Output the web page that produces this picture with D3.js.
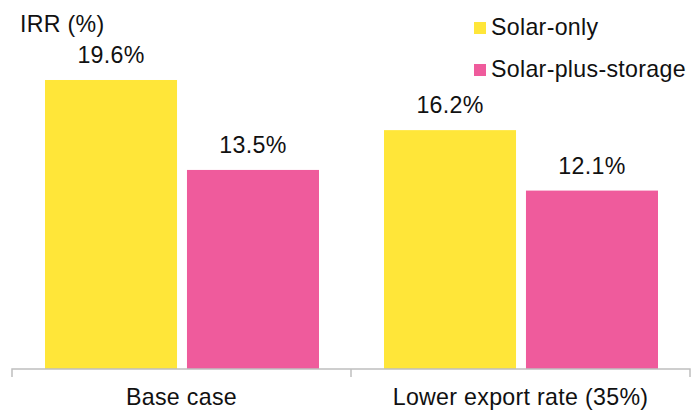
<!DOCTYPE html>
<html>
<head>
<meta charset="utf-8">
<script src="https://cdn.jsdelivr.net/npm/d3@7"></script>
<style>
  html, body { margin: 0; padding: 0; background: #fff; }
  svg { display: block; font-family: "Liberation Sans", Arial, sans-serif; }
  svg text { letter-spacing: 0.3px; }
</style>
</head>
<body>
<svg id="chart" width="700" height="412"></svg>
<script>
const categories = ["Base case", "Lower export rate (35%)"];
const seriesNames = ["Solar-only", "Solar-plus-storage"];
const solarOnly = [19.6, 16.2];
const solarPlusStorage = [13.5, 12.1];
const colors = ["#FFE639", "#EF5B9C"];
const yTitle = "IRR (%)";

const svg = d3.select("#chart");
const left = 12, right = 690, baseline = 369;
const fontSize = 23.2;
const textColor = "#111";

const x0 = d3.scaleBand().domain(categories).range([left, right]).padding(0);
const x1 = d3.scaleBand().domain(seriesNames).range([33, 307]).paddingInner(0.07).paddingOuter(0);
const y = d3.scaleLinear().domain([0, 24]).range([baseline, baseline - 24 * 14.745]);

const data = categories.map((c, i) => ({
  cat: c,
  vals: [
    { s: seriesNames[0], v: solarOnly[i] },
    { s: seriesNames[1], v: solarPlusStorage[i] }
  ]
}));

const groups = svg.selectAll("g.grp").data(data).join("g")
  .attr("class", "grp")
  .attr("transform", d => `translate(${x0(d.cat)},0)`);

groups.selectAll("rect").data(d => d.vals).join("rect")
  .attr("x", d => x1(d.s))
  .attr("width", x1.bandwidth())
  .attr("y", d => y(d.v))
  .attr("height", d => baseline - y(d.v))
  .attr("fill", (d, i) => colors[i]);

groups.selectAll("text.val").data(d => d.vals).join("text")
  .attr("class", "val")
  .attr("x", d => x1(d.s) + x1.bandwidth() / 2)
  .attr("y", d => y(d.v) - 17)
  .attr("text-anchor", "middle")
  .attr("font-size", fontSize)
  .attr("fill", textColor)
  .text(d => d.v.toFixed(1) + "%");

// x axis
const axis = d3.axisBottom(x0).tickSize(0).tickPadding(20);
const ax = svg.append("g").attr("transform", `translate(0,${baseline})`).call(axis);
ax.select(".domain").attr("stroke", "#bfbfbf").attr("stroke-width", 1.5)
  .attr("d", `M${left},8V0H${right}V8`);
ax.selectAll(".tick text").attr("font-size", fontSize).attr("fill", textColor)
  .attr("font-family", "Liberation Sans, Arial, sans-serif").attr("dy", "0.7em");
// middle tick between categories
ax.append("line").attr("x1", x0(categories[1])).attr("x2", x0(categories[1]))
  .attr("y1", 0).attr("y2", 8).attr("stroke", "#bfbfbf").attr("stroke-width", 1.5);

// y title
svg.append("text").attr("x", 20).attr("y", 32).attr("font-size", fontSize)
  .attr("fill", textColor).text(yTitle);

// legend
const legend = svg.append("g");
seriesNames.forEach((s, i) => {
  const ly = 35 + i * 42;
  legend.append("rect").attr("x", 474).attr("y", ly - 13).attr("width", 12).attr("height", 12).attr("fill", colors[i]);
  legend.append("text").attr("x", 491).attr("y", ly).attr("font-size", fontSize)
    .attr("fill", textColor).text(s);
});
</script>
</body>
</html>
